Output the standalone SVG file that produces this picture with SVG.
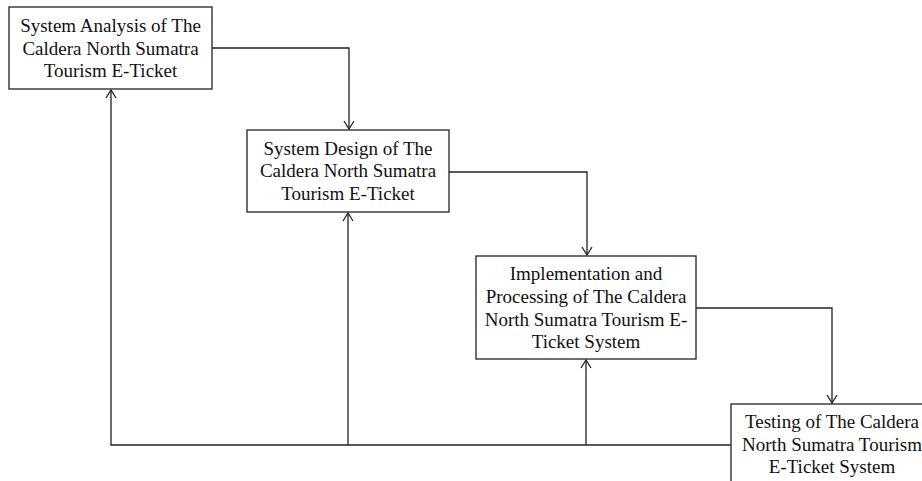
<svg xmlns="http://www.w3.org/2000/svg" width="922" height="481" viewBox="0 0 922 481">
<style>
.box{fill:#fff;stroke:#222;stroke-width:1.3}
.t{font-family:"Liberation Serif","Times New Roman",serif;font-size:19px;fill:#111;text-anchor:middle}
.c{fill:none;stroke:#222;stroke-width:1.3}
</style>
<defs>
<marker id="ah" markerWidth="12" markerHeight="12" refX="10" refY="6" orient="auto" markerUnits="userSpaceOnUse">
<path d="M2,1 L10,6 L2,11" fill="none" stroke="#222" stroke-width="1.3"/>
</marker>
</defs>
<rect width="922" height="481" fill="#fff"/>
<g id="connectors">
<path class="c" d="M212,48 H349 V129" marker-end="url(#ah)"/>
<path class="c" d="M449,172 H587 V255" marker-end="url(#ah)"/>
<path class="c" d="M696,308 H832 V403" marker-end="url(#ah)"/>
<path class="c" d="M731,445 H111 V90" marker-end="url(#ah)"/>
<path class="c" d="M348,445 V213" marker-end="url(#ah)"/>
<path class="c" d="M586,445 V360" marker-end="url(#ah)"/>
</g>
<g id="analysis">
<rect class="box" x="9" y="7" width="203" height="82"/>
<text class="t" x="110.5" y="32">System Analysis of The</text>
<text class="t" x="110.5" y="55">Caldera North Sumatra</text>
<text class="t" x="110.5" y="77">Tourism E-Ticket</text>
</g>
<g id="design">
<rect class="box" x="247" y="130" width="202" height="82"/>
<text class="t" x="348" y="155">System Design of The</text>
<text class="t" x="348" y="177">Caldera North Sumatra</text>
<text class="t" x="348" y="200">Tourism E-Ticket</text>
</g>
<g id="implementation">
<rect class="box" x="476" y="256" width="220" height="103"/>
<text class="t" x="586" y="280">Implementation and</text>
<text class="t" x="586" y="303">Processing of The Caldera</text>
<text class="t" x="586" y="326">North Sumatra Tourism E-</text>
<text class="t" x="586" y="348">Ticket System</text>
</g>
<g id="testing">
<rect class="box" x="731" y="404" width="202" height="82"/>
<text class="t" x="832" y="428">Testing of The Caldera</text>
<text class="t" x="832" y="451">North Sumatra Tourism</text>
<text class="t" x="832" y="473">E-Ticket System</text>
</g>
</svg>
